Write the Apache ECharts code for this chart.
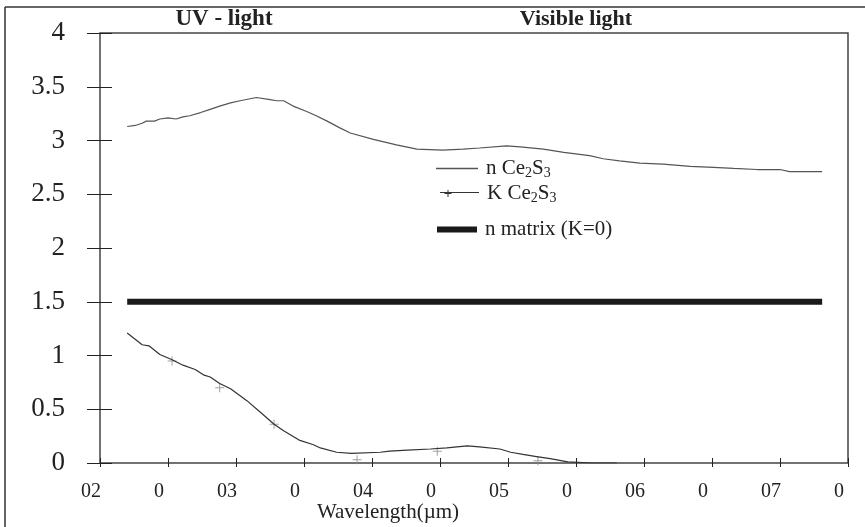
<!DOCTYPE html>
<html>
<head>
<meta charset="utf-8">
<script src="https://cdn.jsdelivr.net/npm/echarts@6/dist/echarts.min.js"></script>
<style>html,body{margin:0;padding:0;background:#fff}#c{width:865px;height:527px}</style>
</head>
<body>
<div id="c"></div>
<script>
// wavelength in nm-like units (tick labels as printed in the source)
var xLabels = ['02','0','03','0','04','0','05','0','06','0','07','0'];
var yLabels = ['0','0.5','1','1.5','2','2.5','3','3.5','4'];

var nWave = [220,226,231,234,240,244,250,256,261,266,274,281,288,296,303,315,325,330,335,342,352,359,367,376,384,401,418,433,452,467,479,499,509,526,541,560,570,582,597,614,634,651,666,683,700,707,731];
var nVal  = [3.13,3.14,3.16,3.18,3.18,3.20,3.21,3.20,3.22,3.23,3.26,3.29,3.32,3.35,3.37,3.40,3.38,3.37,3.37,3.32,3.27,3.23,3.18,3.12,3.07,3.01,2.96,2.92,2.91,2.92,2.93,2.95,2.94,2.92,2.89,2.86,2.83,2.81,2.79,2.78,2.76,2.75,2.74,2.73,2.73,2.71,2.71];

var kWave = [220,231,236,244,253,261,270,276,281,288,296,308,319,328,335,347,357,362,374,385,406,413,426,443,455,470,479,494,502,511,521,531,544,563,580];
var kVal  = [1.21,1.10,1.09,1.01,0.96,0.91,0.87,0.82,0.80,0.74,0.69,0.58,0.46,0.36,0.30,0.21,0.17,0.14,0.10,0.09,0.10,0.11,0.12,0.13,0.14,0.16,0.15,0.13,0.10,0.08,0.06,0.04,0.01,0.00,0.00];

var kMarkWave = [253,288,328,389,448,522];
var kMarkVal  = [0.95,0.70,0.36,0.03,0.11,0.02];

var matrixWave = [220,731];
var matrixVal  = [1.5,1.5];

function zip(a,b){return a.map(function(v,i){return [v,b[i]];});}

var FONT = 'Liberation Serif';
var chart = echarts.init(document.getElementById('c'), null, {renderer:'canvas'});
var subRich = {
  s: {fontFamily: FONT, fontSize: 14, color:'#222', padding:[9,0,0,0]}
};
function legendFmt(name){
  if (name === 'n Ce2S3') return 'n Ce{s|2}S{s|3}';
  if (name === 'K Ce2S3') return 'K Ce{s|2}S{s|3}';
  return name;
}
var legendText = {fontFamily: FONT, fontSize: 21, color:'#222', rich: subRich, padding:[0,0,0,3]};

chart.setOption({
  animation:false,
  backgroundColor:'#fff',
  graphic:[
    {type:'line', shape:{x1:5,y1:7,x2:865,y2:7}, style:{stroke:'#333',lineWidth:1.5}},
    {type:'line', shape:{x1:5,y1:7,x2:5,y2:527}, style:{stroke:'#333',lineWidth:1.5}},
    {type:'text', x:224, y:19, style:{text:'UV - light', font:'bold 23px "Liberation Serif"', fill:'#222', textAlign:'center', textVerticalAlign:'middle'}},
    {type:'text', x:576, y:19, style:{text:'Visible light', font:'bold 22px "Liberation Serif"', fill:'#222', textAlign:'center', textVerticalAlign:'middle'}},
    {type:'text', x:388, y:512, style:{text:'Wavelength(\u00b5m)', font:'21px "Liberation Serif"', fill:'#222', textAlign:'center', textVerticalAlign:'middle'}}
  ],
  legend:[
    {data:['n Ce2S3'], left:436, top:158, padding:0, icon:'rect', itemWidth:42, itemHeight:1.3, formatter:legendFmt, textStyle:legendText, selectedMode:false},
    {data:['K Ce2S3'], left:440, top:183, padding:0, icon:'path://M0,4.5h39v1h-39z M7.5,2.5h1v7h-1z M4.5,5.5h7v1h-7z', itemWidth:39, itemHeight:7, formatter:legendFmt, textStyle:legendText, selectedMode:false},
    {data:['n matrix (K=0)'], left:437, top:219, padding:0, icon:'rect', itemWidth:40, itemHeight:6, formatter:legendFmt, textStyle:legendText, selectedMode:false}
  ],
  grid:{left:100, top:33, right:17, bottom:64, show:true, borderColor:'#444', borderWidth:1.5, backgroundColor:'transparent'},
  xAxis:[
    {type:'value', position:'bottom', offset:-5, min:200, max:750, interval:50,
     axisLine:{show:false, onZero:false},
     axisTick:{show:true, length:9, lineStyle:{color:'#222', width:1}},
     splitLine:{show:false},
     axisLabel:{fontFamily:FONT, fontSize:20, color:'#222', margin:24, padding:[0,18,0,0],
       formatter:function(v){return xLabels[Math.round((v-200)/50)];}}}
  ],
  yAxis:[
    {type:'value', position:'left', offset:-12, min:0, max:4, interval:0.5,
     axisLine:{show:false, onZero:false},
     axisTick:{show:true, length:25, lineStyle:{color:'#222', width:1}},
     splitLine:{show:false},
     axisLabel:{fontFamily:FONT, fontSize:27, color:'#222', margin:47,
       formatter:function(v){return yLabels[Math.round(v/0.5)];}}}
  ],
  series:[
    {name:'n Ce2S3', type:'line', data:zip(nWave,nVal), symbol:'none', color:'#555',
     lineStyle:{color:'#555', width:1.2}, z:3},
    {name:'K Ce2S3', type:'line', data:zip(kWave,kVal), symbol:'none', color:'#333',
     lineStyle:{color:'#333', width:1.2}, z:3},
    {name:'K Ce2S3', type:'scatter', data:zip(kMarkWave,kMarkVal), color:'#888',
     symbol:'path://M4,0h1v9h-1z M0,4h9v1h-9z', symbolSize:9, itemStyle:{color:'#888'}, z:2},
    {name:'n matrix (K=0)', type:'line', data:zip(matrixWave,matrixVal), symbol:'none', color:'#1a1a1a',
     lineStyle:{color:'#1a1a1a', width:6, cap:'butt'}, z:3}
  ]
});
</script>
</body>
</html>
